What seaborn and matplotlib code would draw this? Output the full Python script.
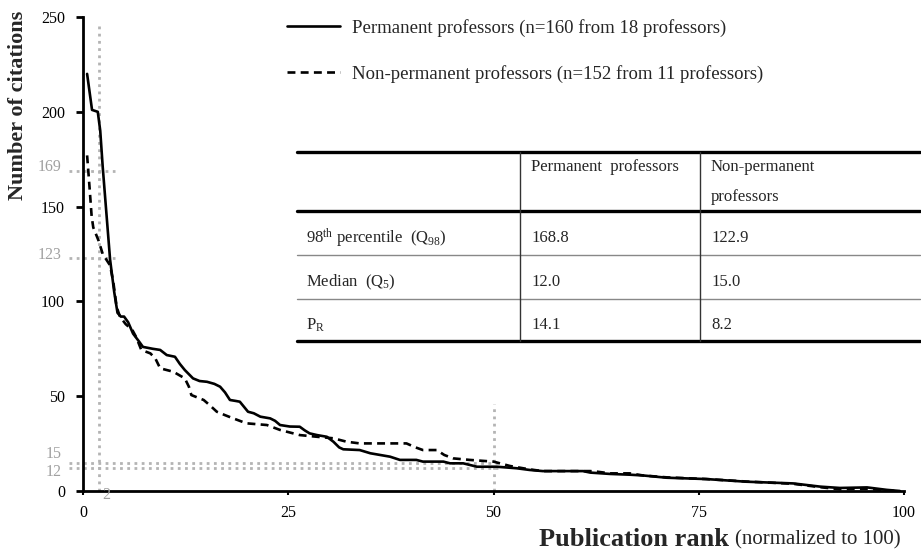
import matplotlib
matplotlib.use("Agg")
import matplotlib.pyplot as plt
import seaborn as sns
from matplotlib.lines import Line2D

# ---------------- data ----------------
perm_rank = [0.5, 1.1, 1.8, 2.1, 2.4, 3.3, 3.8, 4.2, 4.6, 5.0, 5.5, 6.1, 6.8, 7.3, 8.5, 9.4,
             10.2, 11.2, 11.8, 12.4, 13.4, 14.2, 15.1, 16.0, 16.7, 17.3, 17.9, 18.6, 19.1,
             20.1, 20.8, 21.6, 22.8, 23.4, 24.0, 25.2, 26.4, 27.0, 27.6, 28.5, 29.7, 30.5,
             31.2, 31.7, 33.7, 35.0, 37.4, 38.6, 40.6, 41.4, 43.9, 44.7, 46.3, 48.0, 50.4,
             52.8, 54.4, 56.0, 60.9, 61.8, 64.2, 66.6, 68.2, 71.1, 75.9, 80.8, 86.5, 89.8,
             92.2, 95.5, 97.9, 99.5]
perm_cites = [220, 201, 200, 190, 171, 122, 105, 94, 92, 92, 89, 83, 79, 76, 75, 74.4,
              71.7, 70.8, 67, 63.8, 59.4, 58, 57.6, 56.5, 55, 52, 48, 47.5, 47.1,
              41.8, 41, 39.2, 38.3, 37, 34.8, 34, 33.9, 32, 30.4, 29.5, 28.6, 26,
              23, 22, 21.6, 19.9, 18.1, 16.4, 16.4, 15.5, 15.5, 14.6, 14.6, 12.8, 12.8,
              12.0, 11.1, 10.5, 10.5, 9.7, 9.0, 8.6, 8.2, 7.0, 6.3, 4.9, 4.0, 2.3,
              1.6, 1.9, 0.6, 0.0]

nonperm_rank = [0.5, 0.8, 1.05, 1.25, 1.9, 2.4, 3.3, 3.7, 4.1, 4.5, 5.2, 6.0, 6.5, 7.1, 8.2,
                8.8, 9.4, 11.0, 12.4, 12.9, 13.2, 14.7, 15.5, 16.3, 17.3, 18.3, 19.9, 22.4,
                24.0, 26.4, 28.5, 30.5, 32.1, 33.7, 35.0, 39.4, 40.5, 41.4, 43.1, 44.0, 45.1,
                47.1, 50.0, 52.0, 54.4, 56.0, 61.8, 62.6, 64.2, 66.6, 68.2, 71.1, 75.9, 80.8,
                86.5, 89.8, 92.2, 95.5, 98.0, 99.0]
nonperm_cites = [177, 160, 145, 139, 132, 125, 119, 110, 97, 92, 88, 85, 81, 74.4, 72.6,
                 70, 64.7, 62.9, 59.4, 55, 50.6, 48, 45, 41.8, 40, 38.3, 35.7, 34.8,
                 32.2, 29.5, 28.6, 27.8, 26, 25.1, 25.1, 25.1, 23, 21.6, 21.6, 19, 17.2,
                 16.4, 15.5, 13.2, 11.4, 10.5, 10.5, 10.2, 9.3, 9.3, 8.2, 7.2, 6.3, 5.0,
                 3.8, 2.0, 0.9, 1.2, 0.3, 0.0]

perm_label = "Permanent professors (n=160 from 18 professors)"
nonperm_label = "Non-permanent professors (n=152 from 11 professors)"

x_ticks = [0, 25, 50, 75, 100]
y_ticks = [0, 50, 100, 150, 200, 250]
ref_y_high = [169, 123]
ref_y_low = [15, 12]
ref_x_labels = ["2"]

table_cols = ["Permanent  professors", "Non-permanent\nprofessors"]
table_rows = [r"98$^{\mathrm{th}}$ percentile  (Q$_{\mathrm{98}}$)",
              r"Median  (Q$_{\mathrm{5}}$)",
              r"P$_{\mathrm{R}}$"]
table_perm = ["168.8", "12.0", "14.1"]
table_nonperm = ["122.9", "15.0", "8.2"]

# ---------------- style ----------------
sns.set_style("ticks")
plt.rcParams["font.family"] = ["Liberation Serif", "DejaVu Serif"]
plt.rcParams["mathtext.fontset"] = "custom"
plt.rcParams["mathtext.rm"] = "Liberation Serif"
plt.rcParams["mathtext.it"] = "Liberation Serif:italic"
plt.rcParams["mathtext.bf"] = "Liberation Serif:bold"

W, H = 921, 552
fig = plt.figure(figsize=(W / 100, H / 100), dpi=100)
ax = fig.add_axes([83 / W, 1 - 491 / H, (904 - 83) / W, (491 - 17) / H])

def fx(px):
    return px / W

def fy(py):
    return 1 - py / H

GRAY = "#b4b4b4"
dot = (0, (1, 1.6))

# reference lines
for yv in ref_y_high:
    ax.plot([-1.7, 3.9], [yv, yv], color=GRAY, lw=2, ls=dot, clip_on=False, zorder=1)
for yv in ref_y_low:
    ax.plot([-1.7, 50.5], [yv, yv], color=GRAY, lw=2, ls=dot, clip_on=False, zorder=1)
ax.plot([2, 2], [0, 247], color=GRAY, lw=2, ls=dot, clip_on=False, zorder=1)
ax.plot([50, 50], [0, 46], color=GRAY, lw=2, ls=dot, clip_on=False, zorder=1)

# data lines
sns.lineplot(x=perm_rank, y=perm_cites, ax=ax, color="black", lw=1.9,
             estimator=None, sort=False, zorder=3)
sns.lineplot(x=nonperm_rank, y=nonperm_cites, ax=ax, color="black", lw=1.9,
             linestyle=(0, (3, 2)), estimator=None, sort=False, zorder=3)

ax.set_xlim(0, 100)
ax.set_ylim(0, 250)
ax.set_xticks(x_ticks)
ax.set_yticks(y_ticks)
ax.tick_params(axis="y", direction="out", length=5, width=2, labelsize=11.5, pad=8, colors="black")
ax.tick_params(axis="x", direction="out", length=3, width=1.5, labelsize=11.5, pad=7, colors="black")
for s in ["top", "right"]:
    ax.spines[s].set_visible(False)
for s in ["left", "bottom"]:
    ax.spines[s].set_linewidth(2)
    ax.spines[s].set_color("black")
ax.set_xlabel("")
ax.set_ylabel("")

# gray extra tick labels (placed slightly apart as in the reference)
gray_label_px = {169: 167, 123: 255, 15: 454, 12: 472}
for yv in ref_y_high + ref_y_low:
    fig.text(fx(62), fy(gray_label_px[yv]), str(yv), ha="right", va="center",
             fontsize=11.5, color="#a0a0a0")
fig.text(fx(106), fy(495), ref_x_labels[0], ha="center", va="center",
         fontsize=11.5, color="#a0a0a0")

# legend
handles = [Line2D([], [], color="black", lw=1.9),
           Line2D([], [], color="black", lw=1.9, linestyle=(0, (3, 2)))]
leg = ax.legend(handles, [perm_label, nonperm_label], loc="upper left",
                bbox_to_anchor=((287 - 83) / 821, (491 - 19) / 474), frameon=False,
                fontsize=13.5, handlelength=2.8, handletextpad=0.65, labelspacing=1.5,
                borderpad=0, borderaxespad=0)

# axis labels
fig.text(fx(18), fy(105), "Number of citations", rotation=90, ha="center", va="center",
         fontsize=16, fontweight="bold")
fig.text(fx(729), fy(540), "Publication rank", ha="right", va="center",
         fontsize=19, fontweight="bold")
fig.text(fx(735), fy(540), "(normalized to 100)", ha="left", va="center", fontsize=15)

# table
tl, tr = 297, 920
col1, col2 = 520, 700
def hline(py, lw, color="black"):
    fig.add_artist(Line2D([fx(tl), fx(tr)], [fy(py), fy(py)], color=color, lw=lw,
                          transform=fig.transFigure))
def vline(px, y0, y1):
    fig.add_artist(Line2D([fx(px), fx(px)], [fy(y0), fy(y1)], color="#333333", lw=1,
                          transform=fig.transFigure))
hline(152, 2.4)
hline(211, 2.4)
hline(255, 1, "#888888")
hline(299, 1, "#888888")
hline(341, 2.4)
vline(col1, 152, 341)
vline(col2, 152, 341)

tfs = 12
fig.text(fx(531), fy(167), table_cols[0], ha="left", va="center", fontsize=tfs)
fig.text(fx(711), fy(182), table_cols[1], ha="left", va="center", fontsize=tfs,
         linespacing=2.2)
row_y = [238, 282, 325]
for ry, lab, a, b in zip(row_y, table_rows, table_perm, table_nonperm):
    fig.text(fx(306), fy(ry), lab, ha="left", va="center", fontsize=tfs)
    fig.text(fx(531), fy(ry), a, ha="left", va="center", fontsize=tfs)
    fig.text(fx(711), fy(ry), b, ha="left", va="center", fontsize=tfs)

fig.savefig("out.png", dpi=100)
